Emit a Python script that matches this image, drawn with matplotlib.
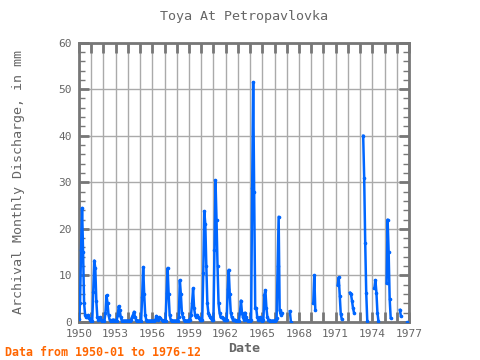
import matplotlib
matplotlib.use("Agg")
import matplotlib.pyplot as plt
import numpy as np

# monthly discharge (mm), None = missing month
v1950 = [0.7, 4, 15.5, 24.5, 15, 4, 1.5, 1, 1, 1.5, 0.8, 0.5]
v1951 = [0.3, 0.3, 6.5, 13.2, 11.5, 4.5, 1, 0.5, 0.8, 1, 0.5, 0.3]
v1952 = [0.3, 0.3, 2, 5.7, 4, 1.5, 0.5, 0.3, 0.3, 0.5, 0.5, 0.3]
v1953 = [0.3, 0.3, 1.5, 3.4, 2.5, 1, 0.3, 0.3, 0.3, 0.3, 0.3, 0.3]
v1954 = [0.3, 0.3, 0.3, 0.5, 1, 1.5, 2.2, 1, 0.5, 0.3, 0.3, 0.3]
v1955 = [0.3, 0.3, 5.4, 11.8, 6, 1.5, 0.5, 0.3, 0.3, 0.3, 0.3, 0.3]
v1956 = [0.3, 0.3, 0.3, 0.5, 1.3, 0.8, 0.5, 1, 0.8, 0.5, 0.3, 0.3]
v1957 = [0.3, 0.3, 6.3, 11.6, 6, 1.5, 0.5, 0.3, 0.3, 0.3, 0.3, 0.3]
v1958 = [0.3, 0.3, 1, 9, 6, 2, 1, 0.5, 0.3, 0.3, 0.3, 0.3]
v1959 = [0.5, 0.5, 1.5, 4, 7.2, 3, 1.5, 1, 1.5, 1, 0.8, 0.5]
v1960 = [0.5, 0.5, 10.5, 23.8, 21, 12, 4, 2, 1.5, 1, 0.8, 0.5]
v1961 = [0.5, 15.5, 30.4, 22, 12, 4, 2, 1, 1, 0.8, 0.5, 0.5]
v1962 = [0.5, 0.5, 7, 11.2, 6, 2, 1, 0.5, 0.5, 0.5, 0.3, 0.3]
v1963 = [0.3, 0.3, 2, 4.6, 2, 1, 0.5, 2, 1, 0.5, 0.3, 0.3]
v1964 = [0.3, 0.5, 28.7, 51.5, 28, 3, 3, 1, 0.5, 0.5, 1, 0.5]
v1965 = [0.3, 0.5, 5.8, 6.8, 3, 1, 0.5, 0.4, 0.3, 0.3, 0.3, 0.3]
v1966 = [0.3, 0.5, 0.8, 12, 22.6, 2.5, 1.6, 2, None, None, None, None]
v1967 = [None, None, None, 2.3, 0.1, None, None, None, None, None, None, None]
v1968 = [None] * 12
v1969 = [None, None, 4, 10, 2.6, None, None, None, None, None, None, None]
v1970 = [None] * 12
v1971 = [None, None, 7.9, 9.6, 5.5, 1.7, 0.6, None, None, None, None, None]
v1972 = [None, None, 6.3, 6, 4.6, 3, 2, None, None, None, None, None]
v1973 = [None, None, None, 40, 30.9, 17, 6.3, 0.3, None, None, None, None]
v1974 = [None, None, 7.2, 9, 6.3, 2, 0.2, None, None, None, None, None]
v1975 = [None, None, 8.3, 22, 15, 5, 0.9, None, None, None, None, None]
v1976 = [None, None, None, 2.6, 1.3, None, None, None, None, None, 0.1, None]

years = list(range(1950, 1977))
all_years = [v1950, v1951, v1952, v1953, v1954, v1955, v1956, v1957, v1958,
             v1959, v1960, v1961, v1962, v1963, v1964, v1965, v1966, v1967,
             v1968, v1969, v1970, v1971, v1972, v1973, v1974, v1975, v1976]

values = []
dates = []
for y, vals in zip(years, all_years):
    for m, v in enumerate(vals):
        dates.append(y + m / 12.0)
        values.append(np.nan if v is None else v)
dates = np.array(dates)
values = np.array(values)

plt.rcParams['font.family'] = ['DejaVu Sans Mono']
grey = '#666666'

fig = plt.figure(figsize=(4.8, 3.6), dpi=100)
ax = fig.add_axes([0.1646, 0.1056, 0.6875, 0.776])

ax.plot(dates, values, color='#0066ff', linewidth=1.8, marker='o',
        markersize=1.6, zorder=3)

ax.set_xlim(1950, 1977)
ax.set_ylim(0, 60)

ax.set_xticks(range(1950, 1978))
ax.set_xticklabels([str(y) if (y - 1950) % 3 == 0 else '' for y in range(1950, 1978)])
ax.set_yticks(range(0, 61, 10))
ax.set_yticks(range(0, 61, 2), minor=True)

ax.grid(True, which='major', color='#aaaaaa', linewidth=1)
ax.set_axisbelow(True)

ax.tick_params(which='major', direction='in', length=7, width=2, color='#777777',
               top=True, right=True, labelsize=8, labelcolor=grey, pad=5)
ax.tick_params(which='minor', direction='in', length=4, width=1, color='#777777',
               left=True, right=True, bottom=False, top=False)

for s in ax.spines.values():
    s.set_color('#777777')
    s.set_linewidth(2)

ax.set_title('Toya At Petropavlovka', fontsize=9.6, color=grey, pad=16)
ax.set_xlabel('Date', fontsize=9.6, color=grey, fontweight='bold', labelpad=2)
ax.set_ylabel('Archival Monthly Discharge, in mm', fontsize=9.6, color=grey, labelpad=24)

fig.text(0.01, 0.01, 'Data from 1950-01 to 1976-12', color='#ff6600',
         fontsize=8.4, fontweight='bold')

fig.savefig('out.png', dpi=100)
